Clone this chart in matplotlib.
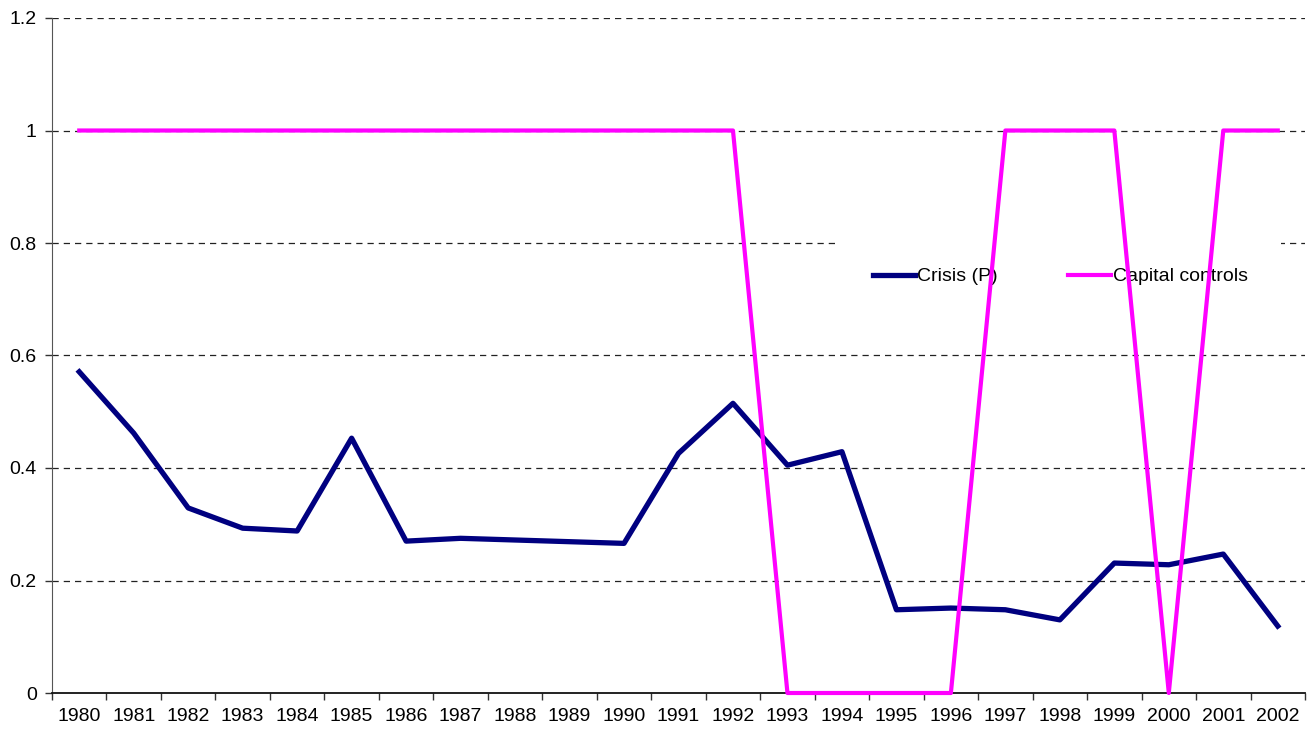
import numpy as np
import matplotlib.pyplot as plt

plt.rcParams['font.family'] = ['Liberation Sans', 'DejaVu Sans']

years = [str(y) for y in range(1980, 2003)]
crisis = [0.571, 0.462, 0.329, 0.293, 0.288, 0.453, 0.270, 0.275, 0.272, 0.269,
          0.266, 0.426, 0.515, 0.405, 0.429, 0.148, 0.151, 0.148, 0.130, 0.231,
          0.228, 0.247, 0.119]
capital_controls = [1, 1, 1, 1, 1, 1, 1, 1, 1, 1, 1, 1, 1, 0, 0, 0, 0, 1, 1, 1, 0, 1, 1]

fig = plt.figure(figsize=(13.11, 7.36), dpi=100)
ax = fig.add_axes([52 / 1311, 1 - 693 / 736, 1253 / 1311, 675 / 736])

x = np.arange(len(years))
ax.plot(x, crisis, color='#000080', lw=3.8, label='Crisis (P)', clip_on=False, zorder=3)
ax.plot(x, capital_controls, color='#FF00FF', lw=3.0, label='Capital controls',
        clip_on=False, zorder=3)

ax.set_xlim(-0.5, len(years) - 0.5)
ax.set_ylim(0, 1.2)
ax.set_yticks(np.arange(0, 1.21, 0.2))
ax.set_yticklabels(['0', '0.2', '0.4', '0.6', '0.8', '1', '1.2'])

# ticks between categories, labels in the middle
ax.set_xticks(np.arange(-0.5, len(years), 1.0))
ax.set_xticklabels([])
ax.set_xticks(x, minor=True)
ax.set_xticklabels(years, minor=True)
ax.tick_params(axis='x', which='major', length=5, width=1, color='#333333', direction='out')
ax.tick_params(axis='x', which='minor', length=0, pad=11, labelsize=14)
ax.tick_params(axis='y', length=5, width=1, color='#333333', direction='out', pad=6, labelsize=14)

for y in np.arange(0.2, 1.21, 0.2):
    ax.axhline(y, color='#222222', lw=0.9, ls=(0, (5, 4)), zorder=0)

ax.spines['top'].set_visible(False)
ax.spines['right'].set_visible(False)
ax.spines['left'].set_color('#555555')
ax.spines['bottom'].set_color('#111111')
ax.spines['bottom'].set_linewidth(1.3)

leg = ax.legend(loc='center', bbox_to_anchor=(0.8045, 0.617), ncol=2, fontsize=14,
                frameon=True, facecolor='white', edgecolor='none', framealpha=1,
                handlelength=2.2, handletextpad=0.1, columnspacing=3.6, borderpad=1.7)
leg.get_frame().set_boxstyle('square', pad=0)
leg.set_zorder(1.5)

fig.savefig('out.png', dpi=100)
